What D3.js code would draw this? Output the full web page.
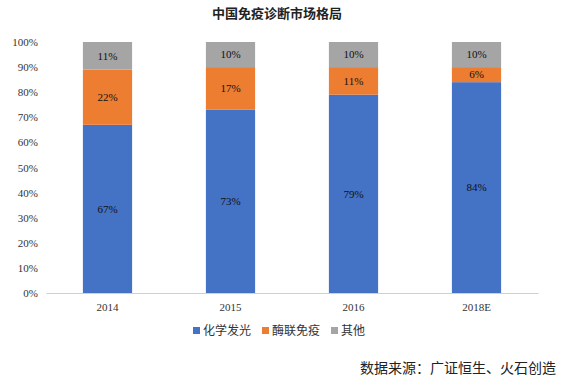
<!DOCTYPE html>
<html>
<head>
<meta charset="utf-8">
<script src="https://cdn.jsdelivr.net/npm/d3@7"></script>
<style>
  body { margin: 0; background: #fff; }
  svg { display: block; }
</style>
</head>
<body>
<div id="chart"></div>
<script>
// Data
const years = ["2014", "2015", "2016", "2018E"];
const seriesNames = ["化学发光", "酶联免疫", "其他"];
const chemi = [67, 73, 79, 84];
const elisa = [22, 17, 11, 6];
const other = [11, 10, 10, 10];
const yTicks = [0, 10, 20, 30, 40, 50, 60, 70, 80, 90, 100];
const colors = ["#4472C4", "#ED7D31", "#A5A5A5"];

const width = 564, height = 384;
const margin = { top: 42, right: 26, bottom: 91, left: 46 };
const chartWidth = width - margin.left - margin.right;
const chartHeight = height - margin.top - margin.bottom;
const serif = "'Liberation Serif', 'Times New Roman', serif";
const cjk = "'Noto Sans CJK SC', sans-serif";

// Build rows for the stack
let rows = years.map((y, i) => ({ year: y, "化学发光": chemi[i], "酶联免疫": elisa[i], "其他": other[i] }));
let stacked = d3.stack().keys(seriesNames)(rows);

let svg = d3.select("#chart")
  .append("svg")
  .attr("width", width)
  .attr("height", height);

let g = svg.append("g")
  .attr("transform", "translate(" + margin.left + "," + margin.top + ")");

let xRange = d3.scaleBand().domain(years).range([0, chartWidth]).paddingInner(0.6).paddingOuter(0.3);
let yRange = d3.scaleLinear().domain([0, 100]).range([chartHeight, 0]);

// Title
svg.append("text")
  .attr("x", 277)
  .attr("y", 18)
  .attr("text-anchor", "middle")
  .attr("font-family", cjk)
  .attr("font-weight", "bold")
  .attr("font-size", 13)
  .attr("fill", "#222")
  .text("中国免疫诊断市场格局");

// y axis (labels only)
let yAxis = g.append("g")
  .call(d3.axisLeft(yRange).tickValues(yTicks).tickFormat(d => d + "%").tickSize(0).tickPadding(8));
yAxis.select(".domain").remove();
yAxis.selectAll("text")
  .attr("font-family", serif)
  .attr("font-size", 11)
  .attr("fill", "#333");

// Bars
let layer = g.selectAll(".layer")
  .data(stacked)
  .join("g")
  .attr("class", "layer")
  .attr("fill", (d, i) => colors[i]);

layer.selectAll("rect")
  .data(d => d)
  .join("rect")
  .attr("x", d => xRange(d.data.year))
  .attr("y", d => yRange(d[1]))
  .attr("width", xRange.bandwidth())
  .attr("height", d => yRange(d[0]) - yRange(d[1]));

// Value labels
layer.selectAll("text")
  .data(d => d)
  .join("text")
  .attr("x", d => xRange(d.data.year) + xRange.bandwidth() / 2)
  .attr("y", d => (yRange(d[0]) + yRange(d[1])) / 2)
  .attr("dy", "0.35em")
  .attr("text-anchor", "middle")
  .attr("font-family", serif)
  .attr("font-size", 11)
  .attr("fill", "#111")
  .text(d => (d[1] - d[0]) + "%");

// x axis
let xAxis = g.append("g")
  .attr("transform", "translate(0," + chartHeight + ")")
  .call(d3.axisBottom(xRange).tickSize(0).tickPadding(10));
xAxis.select(".domain").attr("stroke", "#d0d0d0");
xAxis.selectAll("text")
  .attr("font-family", serif)
  .attr("font-size", 11)
  .attr("fill", "#333");

// Legend
let legendX = [193, 262, 331];
let legend = svg.append("g")
  .selectAll("g")
  .data(seriesNames)
  .join("g")
  .attr("transform", (d, i) => "translate(" + legendX[i] + "," + 331 + ")");
legend.append("rect")
  .attr("x", 0)
  .attr("y", -4)
  .attr("width", 7)
  .attr("height", 7)
  .attr("fill", (d, i) => colors[i]);
legend.append("text")
  .attr("x", 10)
  .attr("dy", "0.35em")
  .attr("font-family", cjk)
  .attr("font-size", 12)
  .attr("fill", "#333")
  .text(d => d);

// Source note
svg.append("text")
  .attr("x", 556)
  .attr("y", 373)
  .attr("text-anchor", "end")
  .attr("font-family", cjk)
  .attr("font-size", 14)
  .attr("fill", "#222")
  .text("数据来源：广证恒生、火石创造");
</script>
</body>
</html>
